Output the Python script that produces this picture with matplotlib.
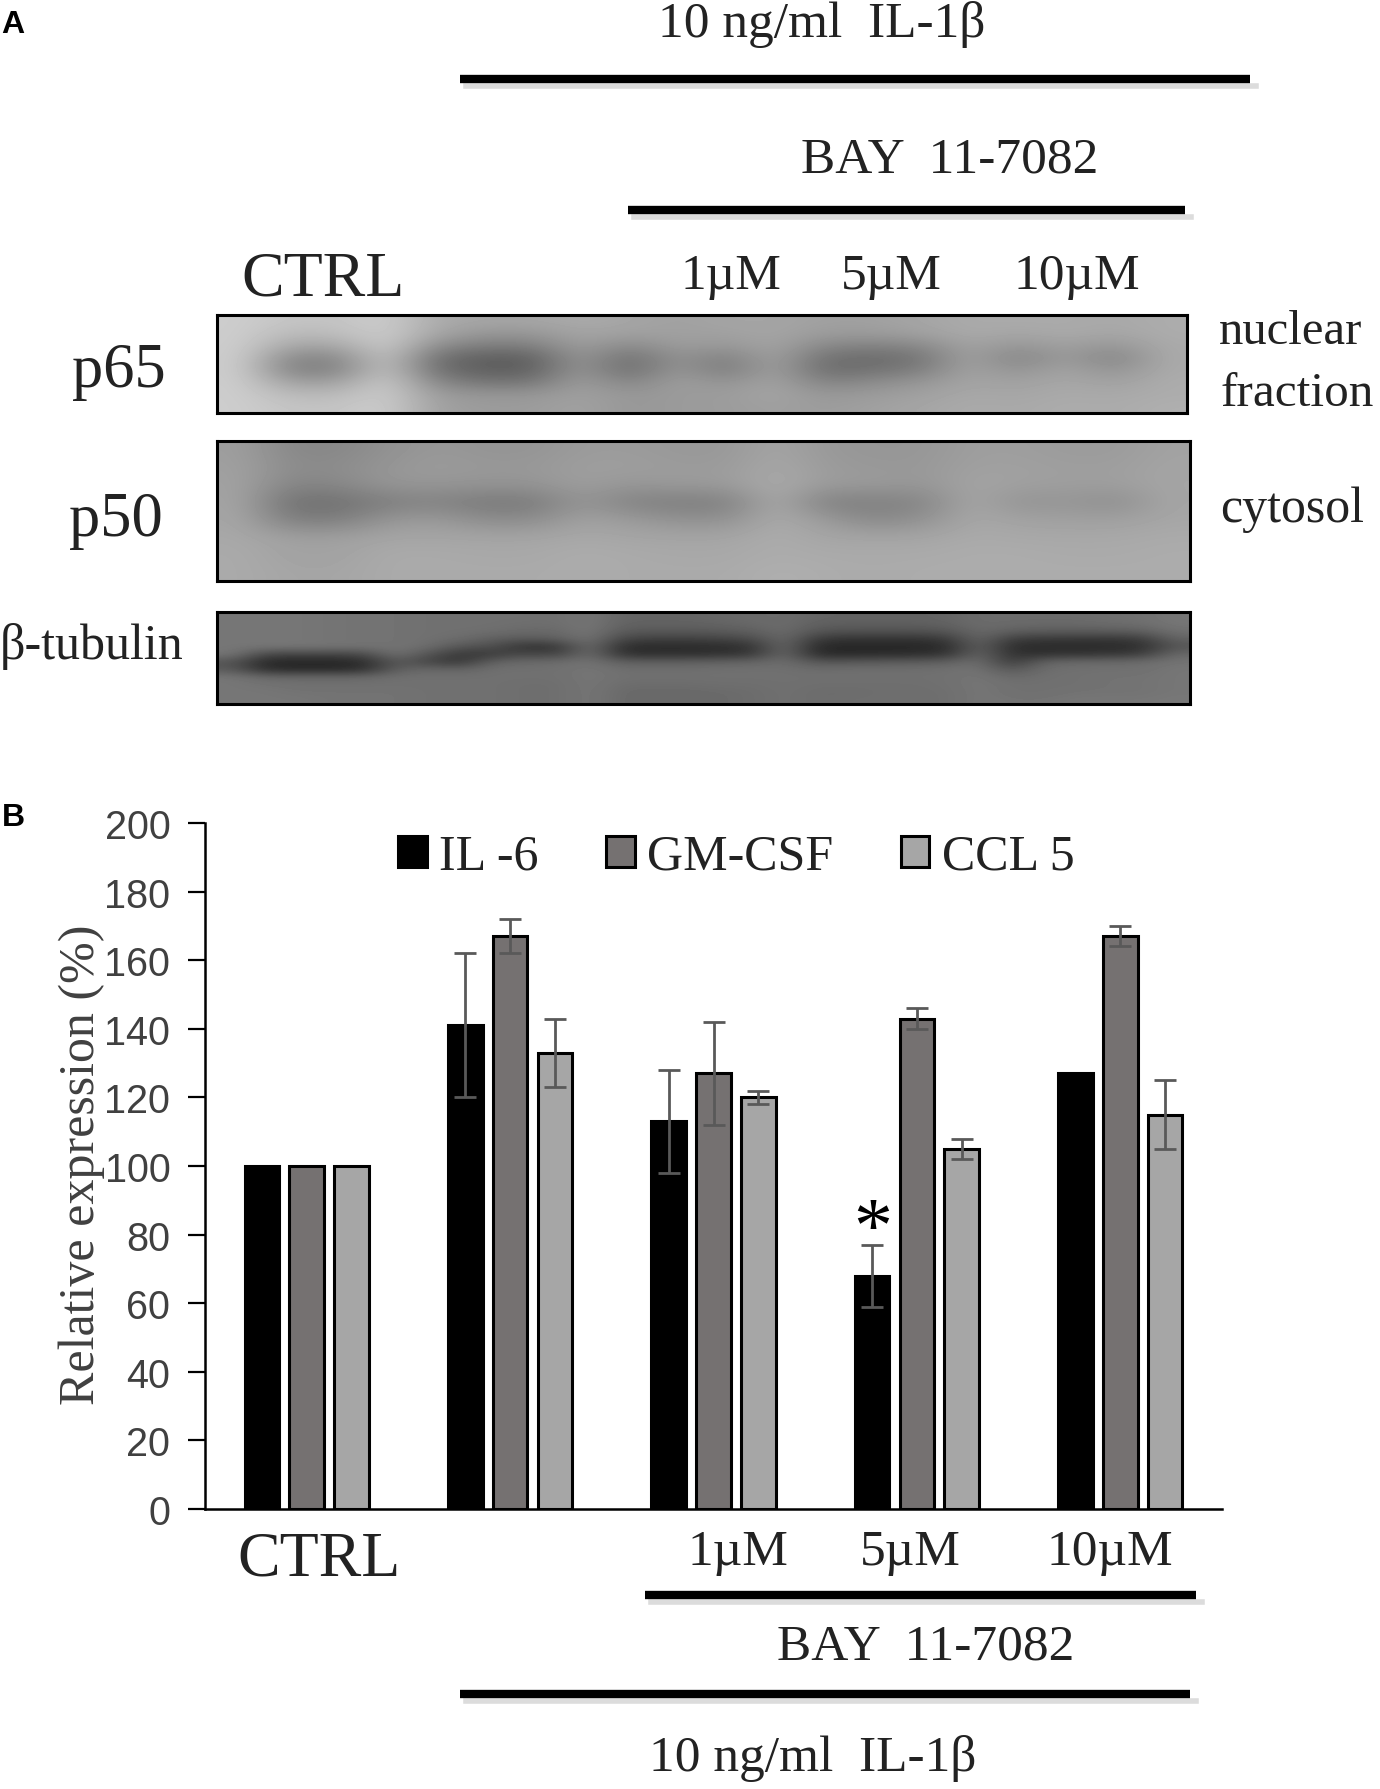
import matplotlib
matplotlib.use('Agg')
import matplotlib.pyplot as plt
import numpy as np

W = 1380
H = 1790

# bar chart values
groups = ['CTRL', 'IL-1b', '1uM', '5uM', '10uM']
il6 = [100, 141, 113, 68, 127]
gmcsf = [100, 167, 127, 143, 167]
ccl5 = [100, 133, 120, 105, 115]
il6_err = [0, 21, 15, 9, 0]
gmcsf_err = [0, 5, 15, 3, 3]
ccl5_err = [0, 10, 2, 3, 10]
yticks = [0, 20, 40, 60, 80, 100, 120, 140, 160, 180, 200]

p65_blot = [
    [205,195,195,205,170,165,165,170,165,160,165,165,160,160,165,170,170,170,168,172],
    [205,185,188,205,165,150,150,165,160,160,160,165,155,155,160,170,165,170,165,172],
    [205,165,165,205,140,125,125,160,135,158,150,165,135,130,135,165,148,162,148,170],
    [205,135,135,200,112,95,95,155,108,150,125,165,112,108,115,165,130,158,130,170],
    [205,130,130,200,112,95,95,155,105,155,120,165,108,115,125,165,145,165,145,170],
    [205,160,160,205,135,118,118,160,130,160,145,165,130,140,150,165,160,168,160,172],
    [205,185,185,205,155,150,150,160,150,155,155,165,150,155,160,168,165,170,168,172],
    [205,195,195,205,160,155,155,162,150,155,155,160,155,160,165,170,168,172,170,175],
]
p50_blot = [
    [158,135,135,145,152,148,148,155,155,152,152,165,152,150,150,158,158,155,155,162],
    [160,140,140,150,155,152,152,158,158,155,155,168,155,152,152,160,160,158,158,164],
    [162,132,135,150,150,148,148,158,150,155,155,172,155,155,150,164,160,158,158,165],
    [164,112,112,125,130,120,120,150,128,125,125,172,125,128,130,168,145,150,140,165],
    [166,125,125,150,155,140,140,162,155,145,145,172,155,135,145,168,162,160,160,166],
    [168,160,160,165,165,165,165,168,165,165,165,172,165,165,165,170,168,168,168,170],
    [170,162,162,170,170,168,168,172,170,168,168,172,170,170,170,172,172,170,170,172],
    [170,165,165,170,170,170,170,172,170,170,170,175,172,170,172,172,172,172,172,172],
]
tubulin_blot = [
    [118,118,118,116,115,115,112,112,112,112,110,118,100,100,100,103,106,108,100,98,98,98,100,108,108,108,108,110,112,118],
    [118,118,118,116,115,115,112,112,112,110,110,118,98,98,98,100,104,108,96,95,95,95,98,108,106,105,105,108,110,118],
    [118,118,118,116,115,115,112,112,110,105,105,118,90,88,88,90,95,108,85,82,82,82,85,106,95,92,92,92,95,112],
    [118,118,118,116,115,115,112,108,95,90,95,116,70,65,65,68,75,108,58,52,52,52,58,105,62,58,56,56,60,100],
    [118,118,118,116,115,115,110,85,80,48,52,112,45,42,42,44,50,108,40,38,38,38,42,100,44,42,42,42,46,85],
    [118,70,70,70,72,115,85,55,58,75,65,112,48,48,48,50,55,108,42,42,44,46,50,105,48,50,52,55,60,105],
    [85,40,38,38,42,90,70,52,100,105,108,115,95,95,95,98,100,110,85,88,90,92,95,112,55,100,105,105,108,115],
    [90,45,42,42,46,95,105,100,112,112,112,118,110,110,110,112,112,112,108,110,110,110,112,115,85,110,112,112,112,118],
    [118,105,105,105,105,112,112,112,112,112,112,118,112,112,112,112,112,112,112,112,112,112,112,118,105,112,112,115,115,118],
    [118,115,112,112,112,112,112,112,112,110,110,118,108,108,108,110,110,112,110,110,110,110,112,118,112,112,112,115,115,118],
    [118,118,115,115,115,115,112,112,112,110,110,118,105,105,105,106,108,112,108,108,110,110,110,118,112,112,115,115,115,118],
    [118,118,118,115,115,115,112,112,112,110,110,118,105,105,105,106,108,112,108,110,110,110,110,118,115,115,118,118,118,120],
]

SERIF = 'Liberation Serif'
SANS = 'Liberation Sans'
DARK = '#222222'

def px_axes(x0, y0, x1, y1):
    return fig.add_axes([x0/W, 1-y1/H, (x1-x0)/W, (y1-y0)/H])

def label(x, y, s, size, family=SERIF, color=DARK, **kw):
    fig.text(x/W, 1-(y+4)/H, s, fontsize=size, family=family, color=color, ha='center', va='center', **kw)

def rule(x0, x1, y):
    # thick bar with soft shadow under it
    fig.add_artist(plt.Line2D([(x0+6)/W, (x1+6)/W], [1-(y+7)/H, 1-(y+7)/H], color='#dcdcdc', lw=4))
    fig.add_artist(plt.Line2D([x0/W, x1/W], [1-y/H, 1-y/H], color='black', lw=6, solid_capstyle='butt'))

def blot(data, x0, y0, x1, y1):
    a = px_axes(x0, y0, x1, y1)
    a.imshow(np.array(data), cmap='gray', vmin=0, vmax=255, aspect='auto', interpolation='bicubic')
    a.set_xticks([])
    a.set_yticks([])
    for s in a.spines.values():
        s.set_linewidth(2.2)

fig = plt.figure(figsize=(W/100, H/100), dpi=100)

# panel A
blot(p65_blot, 217, 316, 1187, 414)
blot(p50_blot, 217, 442, 1190, 582)
blot(tubulin_blot, 217, 613, 1190, 705)

rule(460, 1250, 80)
rule(628, 1185, 211)
label(822, 21, '10 ng/ml  IL-1β', 37)
label(950, 156, 'BAY  11-7082', 37)
label(323, 277, 'CTRL', 46)
label(731, 273, '1µM', 37)
label(891, 273, '5µM', 37)
label(1077, 273, '10µM', 37)
label(119, 368, 'p65', 45)
label(116, 517, 'p50', 45)
label(92, 642, 'β-tubulin', 36)
label(1291, 328, 'nuclear', 35)
label(1297, 390, 'fraction', 35.5)
label(1292, 506, 'cytosol', 36)
label(13, 21, 'A', 23, family=SANS, color='black', fontweight='bold')
label(13, 814, 'B', 23, family=SANS, color='black', fontweight='bold')

# panel B
ax = px_axes(205, 824, 1222, 1510)
x = np.arange(len(groups))
bw = 0.17
off = 0.22
err_kw = dict(ecolor='#595959', elinewidth=2, capsize=8, capthick=2)
b1 = ax.bar(x-off, il6, bw, color='black', edgecolor='black', linewidth=2.2, label='IL -6')
b2 = ax.bar(x, gmcsf, bw, color='#757171', edgecolor='black', linewidth=2.2, label='GM-CSF')
b3 = ax.bar(x+off, ccl5, bw, color='#a6a6a6', edgecolor='black', linewidth=2.2, label='CCL 5')
for i in range(len(groups)):
    if il6_err[i] > 0:
        ax.errorbar(x[i]-off, il6[i], yerr=il6_err[i], **err_kw)
    if gmcsf_err[i] > 0:
        ax.errorbar(x[i], gmcsf[i], yerr=gmcsf_err[i], **err_kw)
    if ccl5_err[i] > 0:
        ax.errorbar(x[i]+off, ccl5[i], yerr=ccl5_err[i], **err_kw)
ax.set_xlim(-0.5, 4.5)
ax.set_ylim(0, 200)
ax.set_xticks([])
ax.set_yticks(yticks)
ax.tick_params(axis='y', length=12, width=1.6, labelsize=28.5, labelcolor='#404040', pad=13)
for t in ax.get_yticklabels():
    t.set_family(SANS)
ax.spines['top'].set_visible(False)
ax.spines['right'].set_visible(False)
ax.spines['left'].set_linewidth(1.8)
ax.spines['bottom'].set_linewidth(1.8)
ax.patch.set_alpha(0)
ax.legend(loc='upper left', bbox_to_anchor=(0.19, 0.985), ncol=3, frameon=False, handlelength=0.57, handleheight=0.57,
          handletextpad=0.25, columnspacing=1.35, borderpad=0, borderaxespad=0,
          prop={'family': SERIF, 'size': 36}, labelcolor=DARK)
ax.text(x[3]-off, 81, '*', fontsize=56, family=SERIF, ha='center', va='center')

label(82, 1161, 'Relative expression (%)', 36, color='#404040', rotation=90)
label(319, 1557, 'CTRL', 46)
label(738, 1549, '1µM', 37)
label(910, 1549, '5µM', 37)
label(1110, 1549, '10µM', 37)
rule(645, 1196, 1596)
label(926, 1643, 'BAY  11-7082', 37)
rule(460, 1190, 1695)
label(813, 1755, '10 ng/ml  IL-1β', 37)

fig.savefig('out.png', dpi=100)
